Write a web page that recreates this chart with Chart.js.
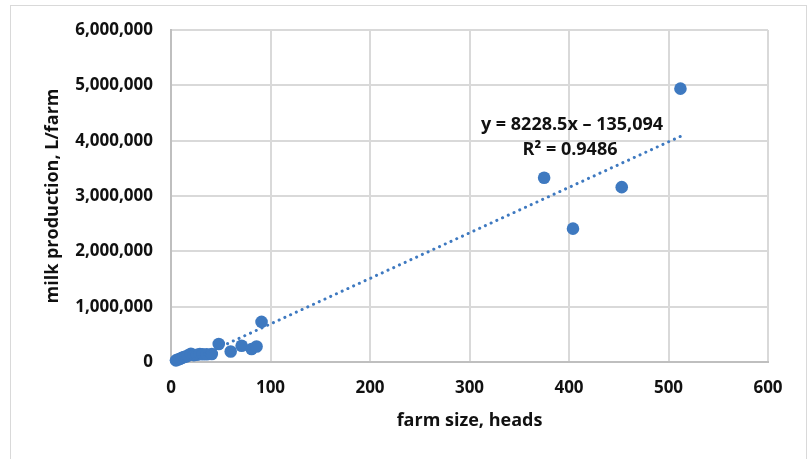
<!DOCTYPE html>
<html>
<head>
<meta charset="utf-8">
<script src="https://cdn.jsdelivr.net/npm/chart.js@4/dist/chart.umd.min.js"></script>
<style>
html,body{margin:0;padding:0;background:#fff;}
#wrap{position:relative;width:808px;height:459px;}
</style>
</head>
<body>
<div id="wrap"><canvas id="c" width="808" height="459"></canvas></div>
<script>
// farm size (heads)
const farmSize = [5, 7, 9, 11, 13, 15, 17, 20, 23, 26, 29, 32, 36, 41, 48, 60, 71, 81, 86, 91, 375, 404, 453, 512];
// milk production (L/farm)
const milkProduction = [30000, 45000, 60000, 75000, 90000, 100000, 115000, 150000, 125000, 130000, 145000, 140000, 140000, 145000, 325000, 190000, 295000, 235000, 280000, 725000, 3330000, 2410000, 3160000, 4940000];
// trendline as printed on the chart
const trendSlope = 8228.5;
const trendIntercept = -135094;
const trendLabel = ["y = 8228.5x \u2013 135,094", "R\u00b2 = 0.9486"];
const xTicks = [0, 100, 200, 300, 400, 500, 600];
const yTicks = [0, 1000000, 2000000, 3000000, 4000000, 5000000, 6000000];
const xTitle = "farm size, heads";
const yTitle = "milk production, L/farm";

const blue = '#3E79C0';
const FONT = "'Open Sans', 'Liberation Sans', sans-serif";

const points = farmSize.map((x, i) => ({x: x, y: milkProduction[i]}));
const xMin = Math.min(...farmSize), xMax = Math.max(...farmSize);
const trend = [xMin, xMax].map(x => ({x: x, y: trendSlope * x + trendIntercept}));

const framePlugin = {
  id: 'frame',
  beforeDraw(chart) {
    const ctx = chart.ctx;
    ctx.save();
    ctx.fillStyle = '#fff';
    ctx.fillRect(0, 0, chart.width, chart.height);
    ctx.strokeStyle = '#d9d9d9';
    ctx.lineWidth = 1;
    ctx.strokeRect(10.5, 5.5, 796, 470);
    ctx.restore();
  },
  afterDatasetsDraw(chart) {
    const ctx = chart.ctx;
    ctx.save();
    ctx.font = "bold 18px " + FONT;
    ctx.fillStyle = '#111';
    ctx.textAlign = 'center';
    ctx.textBaseline = 'middle';
    ctx.fillText(trendLabel[0], 572, 125);
    ctx.fillText(trendLabel[1], 570, 150);
    ctx.restore();
  }
};

new Chart(document.getElementById('c'), {
  type: 'scatter',
  data: {
    datasets: [
      {
        label: 'trend',
        data: trend,
        showLine: true,
        pointRadius: 0,
        borderColor: blue,
        borderWidth: 3,
        borderDash: [0.1, 6.2],
        borderCapStyle: 'round',
        clip: 0
      },
      {
        label: 'farms',
        data: points,
        pointRadius: 6.3,
        pointBackgroundColor: blue,
        pointBorderWidth: 0,
        borderWidth: 0,
        clip: false
      }
    ]
  },
  options: {
    responsive: false,
    animation: false,
    devicePixelRatio: 1,
    layout: {padding: {left: 0, top: 30, right: 40, bottom: 0}},
    plugins: {legend: {display: false}, tooltip: {enabled: false}},
    scales: {
      x: {
        type: 'linear',
        min: 0, max: 600,
        afterBuildTicks(s) { s.ticks = xTicks.map(v => ({value: v})); },
        afterFit(s) { s.height = 97; },
        grid: {color: '#d9d9d9', lineWidth: 2, drawTicks: false},
        border: {color: '#bfbfbf', width: 2},
        ticks: {
          padding: 16,
          color: '#111',
          font: {family: FONT, size: 17, weight: 'bold'},
          maxRotation: 0,
          callback: v => v.toLocaleString('en-US')
        },
        title: {
          display: true, text: xTitle, color: '#111',
          font: {family: FONT, size: 18, weight: 'bold'},
          padding: {top: 0, bottom: 27}
        }
      },
      y: {
        type: 'linear',
        min: 0, max: 6000000,
        afterBuildTicks(s) { s.ticks = yTicks.map(v => ({value: v})); },
        afterFit(s) { s.width = 171; },
        grid: {color: '#d9d9d9', lineWidth: 2, drawTicks: false},
        border: {color: '#bfbfbf', width: 2},
        ticks: {
          padding: 18,
          color: '#111',
          font: {family: FONT, size: 17, weight: 'bold'},
          callback: v => v.toLocaleString('en-US')
        },
        title: {
          display: true, text: yTitle, color: '#111',
          font: {family: FONT, size: 18, weight: 'bold'},
          padding: {top: 42, bottom: 0}
        }
      }
    }
  },
  plugins: [framePlugin]
});
</script>
</body>
</html>
